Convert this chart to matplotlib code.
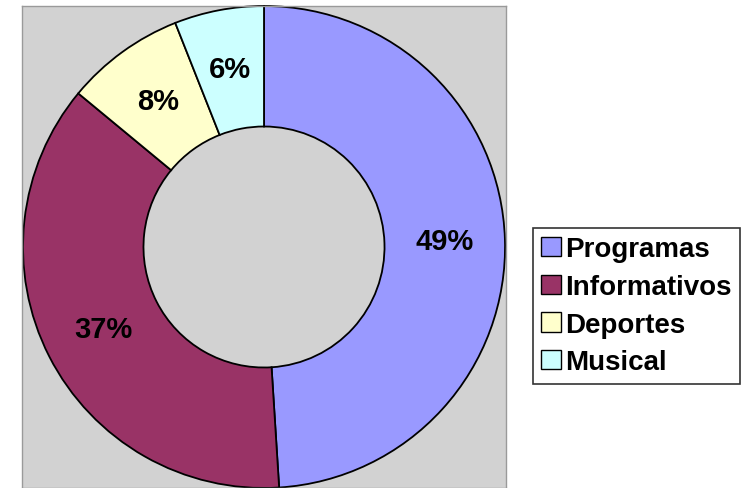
import matplotlib
matplotlib.use("Agg")
import matplotlib.pyplot as plt
from matplotlib.patches import Patch

labels = ["Programas", "Informativos", "Deportes", "Musical"]
values = [49, 37, 8, 6]
colors = ["#9999FF", "#993366", "#FFFFCC", "#CCFFFF"]

fig = plt.figure(figsize=(7.45, 4.89), dpi=100)
W, H = 745, 489
x0, x1, y0, y1 = 22, 506, 7, 489
ax = fig.add_axes([x0 / W, 1 - y1 / H, (x1 - x0) / W, (y1 - y0) / H])

wedges, texts, autotexts = ax.pie(
    values, colors=colors, startangle=90, counterclock=False,
    radius=1.0, autopct=lambda p: f"{p:.0f}%", pctdistance=0.75,
    frame=True,
    wedgeprops=dict(width=0.5, edgecolor="black", linewidth=1.3),
    textprops=dict(fontsize=21, fontweight="bold", family="Liberation Sans", color="black"),
)
ax.set_facecolor("#D2D2D2")
ax.set_frame_on(True)
for s in ax.spines.values():
    s.set_visible(True)
    s.set_color("#9A9A9A")
    s.set_linewidth(1.0)
ax.set_xlim(-1.004, 1.004)
ax.set_ylim(-1.0, 1.0)
ax.set_aspect("auto")
ax.set_xticks([])
ax.set_yticks([])

handles = [Patch(facecolor=c, edgecolor="black", linewidth=1.0) for c in colors]
leg = fig.legend(
    handles, labels, loc="upper left",
    bbox_to_anchor=(533 / W, 1 - 229 / H),
    prop=dict(family="Liberation Sans", weight="bold", size=20),
    handlelength=0.7, handleheight=0.7, handletextpad=0.15,
    labelspacing=0.42, borderpad=0.3, borderaxespad=0.0,
    fancybox=False, frameon=True,
)
leg.get_frame().set_edgecolor("black")
leg.get_frame().set_linewidth(1.2)

fig.savefig("out.png", dpi=100, facecolor="white")
